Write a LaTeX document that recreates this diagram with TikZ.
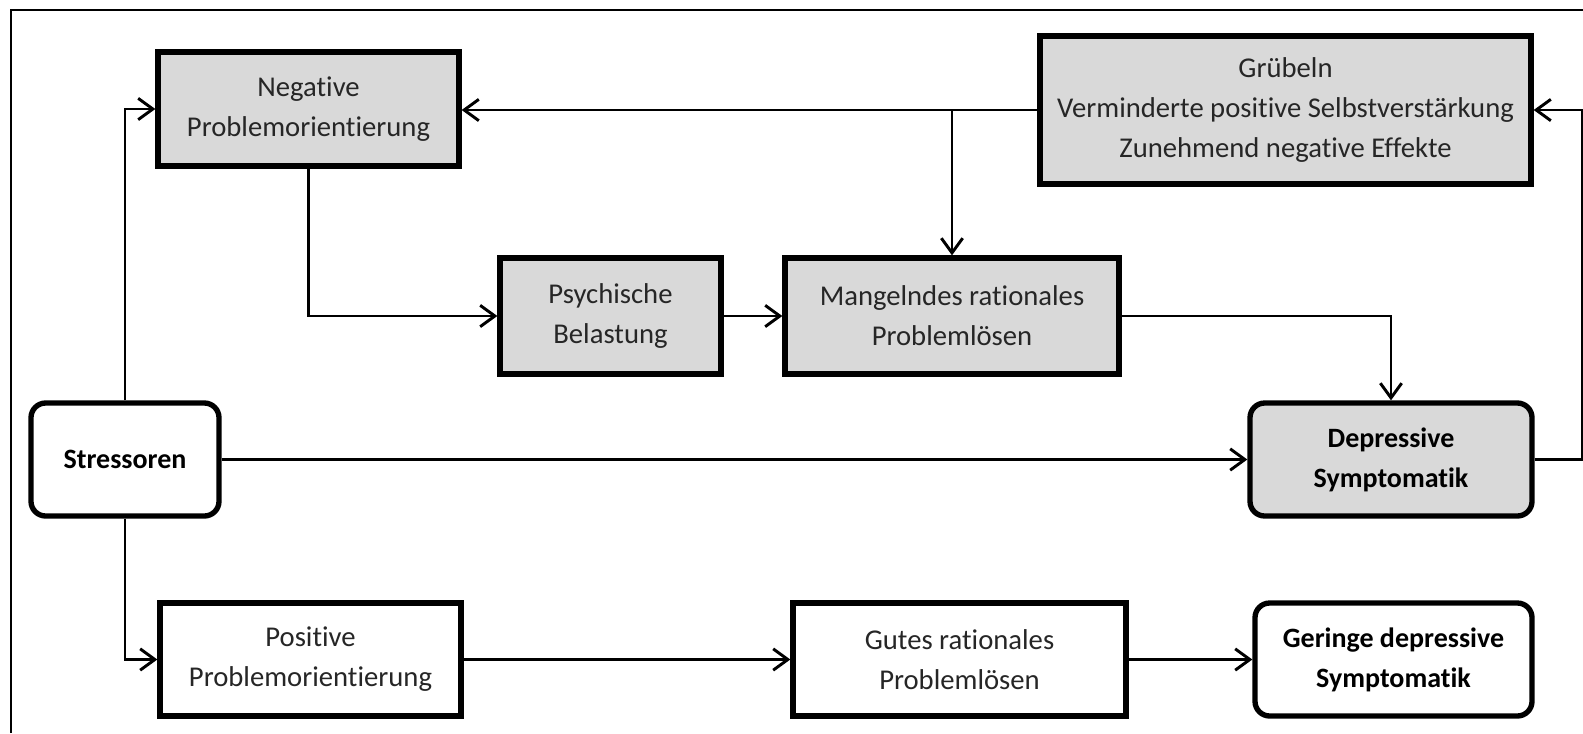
\documentclass[tikz,border=0pt]{standalone}
\usepackage{fontspec}
\setmainfont{Carlito}[Ligatures=NoCommon]
\usetikzlibrary{arrows.meta}
\definecolor{boxgray}{HTML}{D9D9D9}
\definecolor{txt}{HTML}{262626}
\tikzset{
  base/.style={draw=black, line width=4pt, align=center, inner sep=0pt,
    font=\fontsize{21.5}{30}\selectfont, text=txt},
  graybox/.style={base, fill=boxgray},
  whitebox/.style={base, fill=white},
  roundbox/.style={base, rounded corners=11pt, font=\fontsize{21}{30}\selectfont\bfseries, text=black},
  conn/.style={line width=2.2pt, -{Straight Barb[length=11pt,width=16pt,line width=2.2pt]}},
  frame/.style={line width=1.5pt}
}
\begin{document}
\begin{tikzpicture}[x=0.75pt,y=-0.75pt]
\useasboundingbox (0,0) rectangle (1583,733);
\draw[frame] (11,733) -- (11,10) -- (1583,10);

\node[graybox, minimum width=225.75pt, minimum height=85.5pt] (neg) at (308.5,109) {Negative\\Problemorientierung};
\node[graybox, minimum width=368.25pt, minimum height=111pt] (grub) at (1285.5,110) {Grübeln\\Verminderte positive Selbstverstärkung\\Zunehmend negative Effekte};
\node[graybox, minimum width=165.75pt, minimum height=87pt] (psy) at (610.5,316) {Psychische\\Belastung};
\node[graybox, minimum width=250.5pt, minimum height=87pt] (mang) at (952,316) {Mangelndes rationales\\Problemlösen};
\node[roundbox, fill=white, minimum width=141pt, minimum height=84.75pt] (stress) at (125,459.5) {Stressoren};
\node[roundbox, fill=boxgray, minimum width=211.5pt, minimum height=84.75pt] (dep) at (1391,459.5) {Depressive\\Symptomatik};
\node[whitebox, minimum width=225.75pt, minimum height=84.75pt] (pos) at (310.5,659.5) {Positive\\Problemorientierung};
\node[whitebox, minimum width=249.75pt, minimum height=84.75pt] (gut) at (959.5,659.5) {Gutes rationales\\Problemlösen};
\node[roundbox, fill=white, minimum width=207.75pt, minimum height=84.75pt] (ger) at (1393.5,659.5) {Geringe depressive\\Symptomatik};

\coordinate (r) at (1582,0);

\draw[conn] (stress.north) |- (neg.west);
\draw[conn] (stress.south) |- (pos.west);
\draw[conn] (stress.east) -- (dep.west);
\draw[conn] (neg.south) |- (psy.west);
\draw[conn] (psy.east) -- (mang.west);
\draw[conn] (mang.east) -| (dep.north);
\draw[conn] (grub.west) -- (grub.west -| neg.east);
\draw[conn] (grub.west -| mang.north) -- (mang.north);
\draw[conn] (dep.east) -- (dep.east -| r) |- (grub.east);
\draw[conn] (pos.east) -- (gut.west);
\draw[conn] (gut.east) -- (ger.west);
\end{tikzpicture}
\end{document}
